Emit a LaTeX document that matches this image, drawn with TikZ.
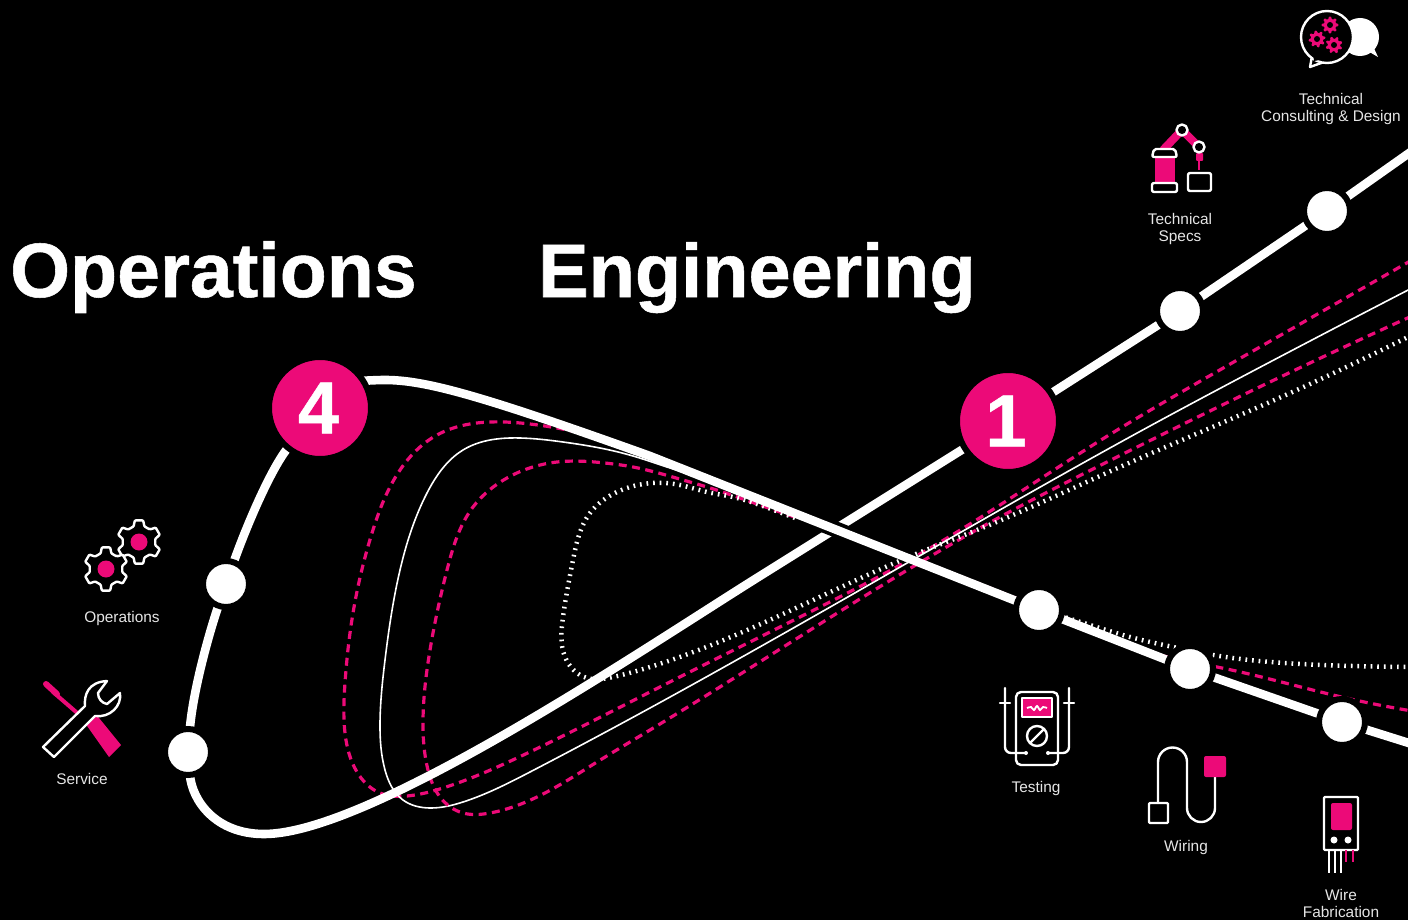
\documentclass[tikz,border=0pt]{standalone}
\usepackage{fontspec}
\usetikzlibrary{hobby}
\setmainfont{Liberation Sans}
\newfontfamily\heavyf[BoldFeatures={FakeBold=0.7}]{Liberation Sans}
\definecolor{tpink}{HTML}{EC0A78}
\definecolor{lbl}{HTML}{E6E6E6}
\pgfdeclarelayer{bg}
\pgfsetlayers{bg,main}
\tikzset{
  waypoint/.style={circle,fill=white,draw=black,line width=6pt,minimum size=46pt,inner sep=0pt,outer sep=0pt},
  numnode/.style={circle,fill=tpink,draw=black,line width=6pt,minimum size=102pt,inner sep=0pt,outer sep=0pt,text=white,font=\fontsize{74}{74}\selectfont\heavyf\bfseries},
  thick line/.style={draw=white,line width=8.6pt},
  casing/.style={draw=black,line width=16pt},
  pinkdash/.style={use Hobby shortcut,draw=tpink,line width=3.2pt,dash pattern=on 8pt off 5.5pt},
  thinline/.style={use Hobby shortcut,draw=white,line width=1.6pt},
  tickline/.style={use Hobby shortcut,draw=white,line width=4.5pt,dash pattern=on 1.7pt off 4.9pt},
  title/.style={anchor=base west,inner sep=0pt,text=white,font=\heavyf\bfseries},
  label/.style={align=center,inner sep=0pt,text=lbl,font=\fontsize{15.4}{17}\selectfont},
  icon/.style={draw=white,line width=2.4pt,line join=round,line cap=round},
}
\newcommand{\gearat}[6]{%
  \begin{scope}[shift={#2},rotate=#6]
    \pgfmathsetmacro\gstep{360/#5}
    \path[#1,rounded corners=0.8pt] ({-0.32*\gstep}:#4)
      \foreach \i in {1,...,#5}{
        -- ({(\i-1)*\gstep-0.32*\gstep}:#4)
        -- ({(\i-1)*\gstep-0.18*\gstep}:#3)
        -- ({(\i-1)*\gstep+0.18*\gstep}:#3)
        -- ({(\i-1)*\gstep+0.32*\gstep}:#4)
      } -- cycle;
  \end{scope}}
\begin{document}
\begin{tikzpicture}[x=1pt,y=-1pt]
\begin{pgfonlayer}{bg}
  \fill[black] (0,0) rectangle (1408,920);
\end{pgfonlayer}
\useasboundingbox (0,0) rectangle (1408,920);

% titles
\node[title,font=\fontsize{77}{77}\selectfont\heavyf\bfseries] (tOps) at (10,297) {Operations};
\node[title,font=\fontsize{75.7}{76}\selectfont\heavyf\bfseries] (tEng) at (538,297) {Engineering};

% stations
\node[waypoint] (consult) at (1327,211) {};
\node[waypoint] (specs) at (1180,311) {};
\node[numnode] (one) at (1008,421) {1\kern4pt};
\node[waypoint] (test) at (1039,610) {};
\node[waypoint] (wire) at (1190,669) {};
\node[waypoint] (fab) at (1342,722) {};
\node[numnode] (four) at (320,408) {4\kern3pt};
\node[waypoint] (ops) at (226,584) {};
\node[waypoint] (serv) at (188,752) {};
\coordinate (endA) at (1412,151);
\coordinate (endB) at (1412,744);
\coordinate (midA) at (760,576);
\coordinate (low) at (264,834);
\coordinate (topB) at (385,380);
\coordinate (midB) at (650,456);
\coordinate (casA) at (800,515);
\coordinate (casB) at (882,548);

\begin{pgfonlayer}{bg}
  % thin loops
  \draw[pinkdash] (1412,260) .. (1225,367) .. (1101,440) .. (932,547) .. (800,617) .. (650,692) .. (517,758) .. (443,788) .. (407,796) .. (380,793) .. (357,772) .. (345,733) .. (345,683) .. (353,613) .. (372,533) .. (400,470) .. (437,435) .. (490,422) .. (530,424) .. (593,436) .. (700,474) .. (850,533) .. (1000,592) .. (1100,632) .. (1160,655) .. (1217,667) .. (1333,695) .. (1412,711);
  \draw[thinline] (1412,288) .. (1270,362) .. (1139,432) .. (970,527) .. (650,708) .. (530,772) .. (463,802) .. (430,808) .. (403,800) .. (385,770) .. (380,723) .. (385,660) .. (400,570) .. (427,493) .. (463,450) .. (520,438) .. (563,442) .. (600,448) .. (633,456) .. (667,467) .. (720,484) .. (800,515) .. (900,553) .. (1039,610);
  \draw[pinkdash] (1412,316) .. (1247,393) .. (1105,463) .. (1000,517) .. (650,730) .. (597,762) .. (537,797) .. (490,813) .. (463,813) .. (440,797) .. (428,770) .. (423,720) .. (430,650) .. (447,570) .. (473,507) .. (507,478) .. (557,462) .. (605,463) .. (633,467) .. (683,480) .. (707,487) .. (760,505) .. (800,519) .. (840,534) .. (900,556) .. (1039,610);
  \draw[tickline] (1412,335) .. (1270,402) .. (1120,467) .. (977,530) .. (921,552) .. (650,667) .. (613,677) .. (587,678) .. (565,657) .. (563,617) .. (573,560) .. (590,513) .. (617,492) .. (653,483) .. (680,485) .. (707,492) .. (733,497) .. (760,505) .. (787,515) .. (820,527) .. (900,554) .. (1040,609) .. (1090,625) .. (1130,637) .. (1173,647) .. (1213,655) .. (1323,665) .. (1412,667);
  % thick line, rising part
  \draw[thick line] (endA) -- (consult) -- (specs) -- (one) -- (midA)
     .. controls (640,651) and (370,834) .. (low)
     .. controls (215,834) and (192,800) .. (serv)
     .. controls (193,690) and (210,630) .. (ops)
     .. controls (245,530) and (270,470) .. (four);
  % the falling part passes over it
  \draw[casing] (casA) -- (casB);
  \draw[thick line] (four) .. controls (340,385) and (360,380) .. (topB)
     .. controls (425,380) and (480,395) .. (midB) -- (test) -- (wire) -- (fab) -- (endB);
\end{pgfonlayer}

% labels
\node[label] (lConsult) at (1331,109) {Technical\\Consulting \& Design};
\node[label] (lSpecs) at (1180,229) {Technical\\Specs};
\node[label] (lOps) at (122,619) {Operations};
\node[label] (lServ) at (82,779) {Service};
\node[label] (lTest) at (1036,789) {Testing};
\node[label] (lWire) at (1186,848) {Wiring};
\node[label] (lFab) at (1341,903) {Wire\\Fabrication};

% consulting icon
\fill[white] (1360,37) circle (19);
\fill[white] (1366,50) -- (1378,57) -- (1372,44) -- cycle;
\filldraw[icon,fill=black] (1312,56) -- (1310,67) -- (1324,62) -- cycle;
\filldraw[icon,fill=black] (1327,37) circle (26);
\fill[black] (1313,52) -- (1314,61) -- (1325,59) -- (1322,52) -- cycle;
\gearat{fill=tpink}{(1330,25)}{8.5}{6}{8}{0}
\gearat{fill=tpink}{(1317,39)}{8.5}{6}{8}{10}
\gearat{fill=tpink}{(1334,45)}{8.5}{6}{8}{20}
\fill[black] (1330,25) circle (3) (1317,39) circle (3) (1334,45) circle (3);

% technical specs icon
\fill[tpink] (1155,157) rectangle (1175,183);
\draw[tpink,line width=8pt] (1163,150) -- (1182,130) -- (1199,147);
\fill[tpink,rounded corners=1pt] (1196,153) rectangle (1203,161);
\draw[tpink,line width=2.4pt] (1199,160) -- (1199,170);
\filldraw[icon,fill=black,rounded corners=2pt] (1154,149) -- (1175,149) -- (1177,157) -- (1152,157) -- cycle;
\filldraw[icon,fill=black,rounded corners=2pt] (1152,183) rectangle (1177,192);
\filldraw[icon,fill=black] (1182,130) circle (5.5);
\filldraw[icon,fill=black] (1199,147) circle (5.5);
\draw[icon,rounded corners=2pt] (1188,173) rectangle (1211,191);

% operations icon
\gearat{draw=white,line width=2.4pt,line join=round,fill=black}{(139,542)}{22}{16.5}{6}{30}
\gearat{draw=white,line width=2.4pt,line join=round,fill=black}{(106,569)}{22}{16.5}{6}{30}
\fill[tpink] (139,542) circle (8.5) (106,569) circle (8.5);

% service icon
\fill[tpink] (85,723) -- (95,713) -- (121,745) -- (109,757) -- cycle;
\draw[tpink,line width=4pt] (53,692) -- (90,724);
\draw[tpink,line width=6pt,line cap=round] (46,684) -- (57,694);
\filldraw[icon,fill=black] (43,747) -- (85,706) .. controls (84,695) and (88,682) .. (107,681)
  -- (98,693) .. controls (98,699) and (102,703) .. (107,704) -- (120,693)
  .. controls (122,706) and (110,718) .. (95,716) -- (54,757) -- cycle;

% testing icon
\draw[icon,rounded corners=5pt] (1016,692) rectangle (1058,765);
\filldraw[icon,fill=tpink] (1022,698) rectangle (1052,717);
\draw[white,line width=1.8pt] plot[smooth] coordinates {(1027,708) (1031,707) (1034,710) (1037,706) (1040,710) (1043,707) (1047,708)};
\draw[icon] (1037,736) circle (10);
\draw[icon] (1031,742) -- (1043,730);
\draw[icon,rounded corners=6pt] (1005,688) -- (1005,753) -- (1026,753);
\draw[icon,rounded corners=6pt] (1069,688) -- (1069,753) -- (1048,753);
\draw[icon] (1000,703) -- (1010,703) (1064,703) -- (1074,703);
\fill[white] (1026,753) circle (2) (1048,753) circle (2);

% wiring icon
\draw[icon,rounded corners=1pt] (1149,803) rectangle (1168,823);
\draw[icon] (1158,803) -- (1158,762) arc[start angle=180,end angle=360,radius=14.5] -- (1187,808)
  arc[start angle=180,end angle=0,radius=14] -- (1215,777);
\fill[tpink,rounded corners=2pt] (1204,756) rectangle (1226,777);

% wire fabrication icon
\draw[icon,rounded corners=1pt] (1324,797) rectangle (1358,850);
\fill[tpink,rounded corners=2pt] (1331,803) rectangle (1352,830);
\fill[white] (1334,840) circle (3.5) (1348,840) circle (3.5);
\draw[white,line width=2.4pt] (1329,850) -- (1329,873) (1335,850) -- (1335,873) (1341,850) -- (1341,873);
\draw[tpink,line width=2.6pt] (1346,850) -- (1346,862) (1353,850) -- (1353,862);
\end{tikzpicture}
\end{document}
